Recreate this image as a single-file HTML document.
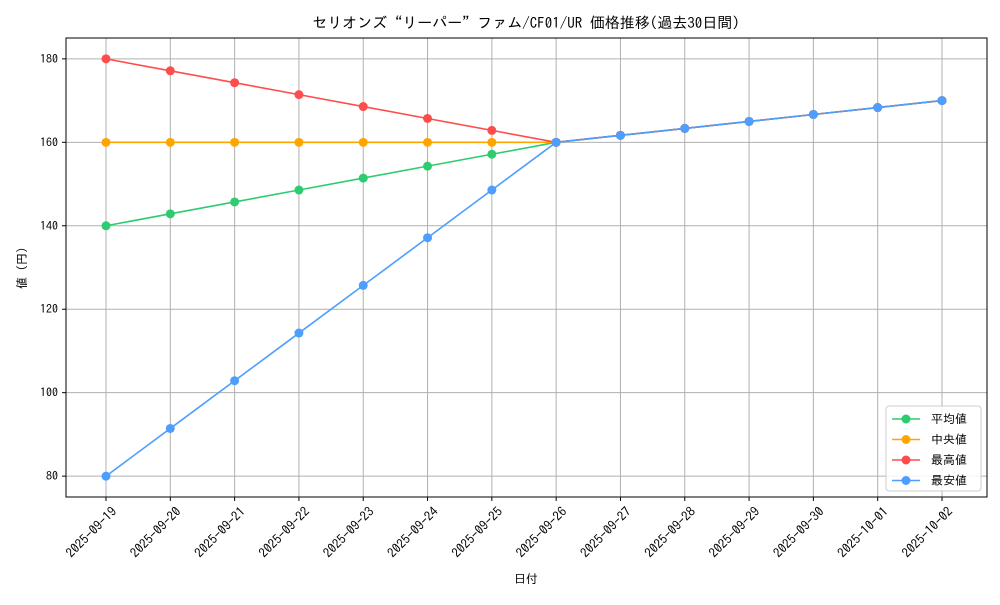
<!DOCTYPE html>
<html><head><meta charset="utf-8"><style>
body{margin:0;background:#fff}
svg text{font-family:"IPAGothic","Noto Sans CJK JP",monospace;fill:#000}
</style></head><body>
<svg id="c" width="1000" height="600" xmlns="http://www.w3.org/2000/svg">
<text x="526" y="28" text-anchor="middle" font-size="15">セリオンズ“リーパー”ファム/CF01/UR 価格推移(過去30日間)</text>
<g id="grid"></g><g id="axes"></g><g id="series"></g>
<text x="526" y="583" text-anchor="middle" font-size="12">日付</text>
<text transform="translate(26,268) rotate(-90)" text-anchor="middle" font-size="12">値 (円)</text>
<g id="legend"></g>
</svg>
<script>
const dates=["2025-09-19","2025-09-20","2025-09-21","2025-09-22","2025-09-23","2025-09-24","2025-09-25","2025-09-26","2025-09-27","2025-09-28","2025-09-29","2025-09-30","2025-10-01","2025-10-02"];
const avgVals=[140,142.86,145.71,148.57,151.43,154.29,157.14,160,161.67,163.33,165,166.67,168.33,170];
const medVals=[160,160,160,160,160,160,160,160,161.67,163.33,165,166.67,168.33,170];
const maxVals=[180,177.14,174.29,171.43,168.57,165.71,162.86,160,161.67,163.33,165,166.67,168.33,170];
const minVals=[80,91.43,102.86,114.29,125.71,137.14,148.57,160,161.67,163.33,165,166.67,168.33,170];
const yTicks=[80,100,120,140,160,180];
const seriesNames=["平均値","中央値","最高値","最安値"];
const NS="http://www.w3.org/2000/svg";
const L=66,R=987,T=38,B=497,yMin=75,yMax=185;
const xs=i=>106+i*(942-106)/(dates.length-1);
const ys=v=>B-(v-yMin)/(yMax-yMin)*(B-T);
function mk(tag,at,parent){const e=document.createElementNS(NS,tag);for(const k in at)e.setAttribute(k,at[k]);parent.appendChild(e);return e;}
const grid=document.getElementById('grid'),axes=document.getElementById('axes'),ser=document.getElementById('series'),leg=document.getElementById('legend');
dates.forEach((d,i)=>{
 const g=mk('line',{x1:xs(i),x2:xs(i),y1:T,y2:B,stroke:'#b0b0b0','stroke-width':1},grid);
 
 
 mk('line',{x1:xs(i),x2:xs(i),y1:B,y2:B+4,stroke:'#000'},axes);
 const t=mk('text',{transform:`translate(${xs(i)+5},${B+9}) rotate(-45)`,'text-anchor':'end','font-size':13,dy:'0.7em'},axes);
 t.textContent=d;
 
 
});
yTicks.forEach(v=>{
 const g=mk('line',{x1:L,x2:R,y1:ys(v),y2:ys(v),stroke:'#b0b0b0','stroke-width':1},grid);
 
 
 mk('line',{x1:L-4,x2:L,y1:ys(v),y2:ys(v),stroke:'#000'},axes);
 const t=mk('text',{x:L-8,y:ys(v)+4,'text-anchor':'end','font-size':12},axes);
 t.textContent=v;
 
 
});
const fr=mk('rect',{x:L,y:T,width:R-L,height:B-T,fill:'none',stroke:'#000','stroke-width':1},axes);


const all=[[avgVals,'#2ecc71','average'],[medVals,'#ffa500','median'],[maxVals,'#ff4d4d','max'],[minVals,'#4d9eff','min']];
all.forEach(([vals,col,nm])=>{
 const g=mk('g',{},ser);
 
 
 mk('polyline',{points:vals.map((v,i)=>xs(i)+','+ys(v)).join(' '),fill:'none',stroke:col,'stroke-width':1.6},g);
 vals.forEach((v,i)=>{const c=mk('circle',{cx:xs(i),cy:ys(v),r:4.5,fill:col},g);
  
  });
});
const lb=mk('rect',{x:886,y:406,width:95,height:85,rx:3,fill:'#fff','fill-opacity':0.85,stroke:'#ccc'},leg);


all.forEach(([v,col,nm],i)=>{
 const y=419+i*20.5;
 const g=mk('g',{},leg);
 
 
 mk('line',{x1:892,x2:920,y1:y,y2:y,stroke:col,'stroke-width':1.6},g);
 mk('circle',{cx:906,cy:y,r:4.5,fill:col},g);
 const t=mk('text',{x:931,y:y+4,'font-size':12},g);t.textContent=seriesNames[i];
});
</script>
</body></html>
